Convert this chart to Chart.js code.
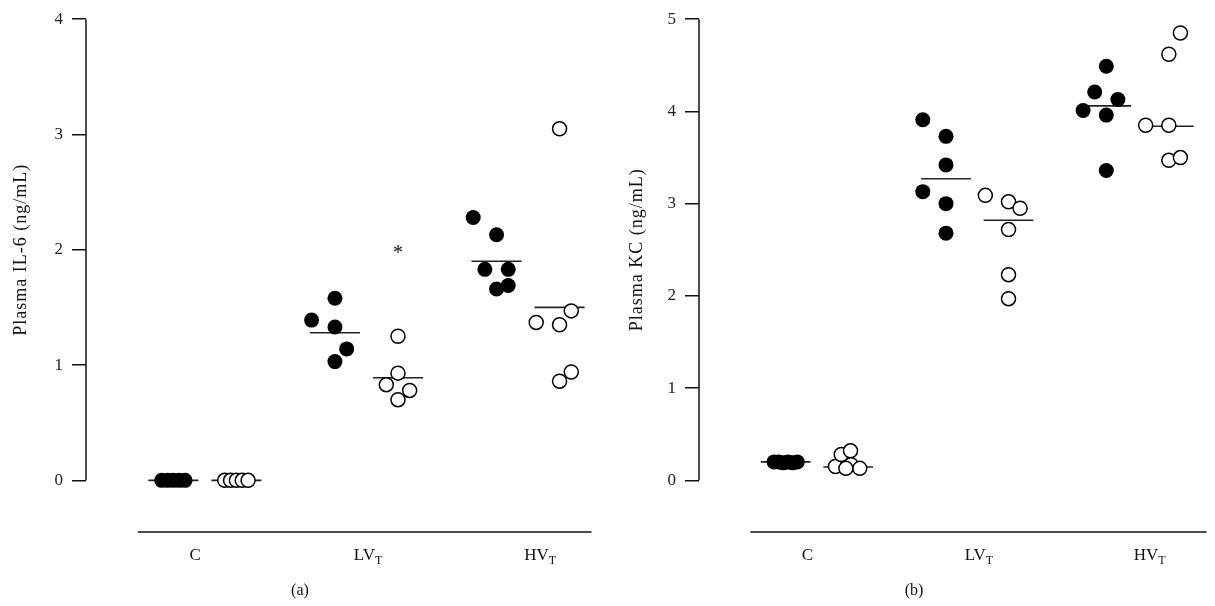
<!DOCTYPE html>
<html>
<head>
<meta charset="utf-8">
<script src="https://cdn.jsdelivr.net/npm/chart.js@4.4.0/dist/chart.umd.min.js"></script>
<style>
  html, body { margin: 0; padding: 0; background: #fff; }
  #wrap { position: relative; width: 1215px; height: 606px; }
  canvas { position: absolute; top: 0; }
</style>
</head>
<body>
<div id="wrap">
  <canvas id="chartA" width="600" height="606" style="left:0"></canvas>
  <canvas id="chartB" width="602" height="606" style="left:613px"></canvas>
</div>
<script>
const categories = ["C", "LV", "HV"];
const categorySub = ["", "T", "T"];

// (a) plasma IL-6, ng/mL, one inner list per category
const il6Solid = [[0, 0, 0, 0, 0], [1.58, 1.39, 1.33, 1.14, 1.03], [2.28, 2.13, 1.83, 1.83, 1.69, 1.66]];
const il6Open = [[0, 0, 0, 0, 0], [1.25, 0.93, 0.83, 0.78, 0.70], [3.05, 1.47, 1.37, 1.35, 0.94, 0.86]];
const il6SolidMean = [0, 1.28, 1.90];
const il6OpenMean = [0, 0.89, 1.50];
const il6Ticks = [0, 1, 2, 3, 4];

// (b) plasma KC, ng/mL
const kcSolid = [[0.20, 0.20, 0.19, 0.20, 0.19, 0.20], [3.91, 3.73, 3.42, 3.13, 3.00, 2.68], [4.49, 4.21, 4.13, 4.01, 3.96, 3.36]];
const kcOpen = [[0.15, 0.28, 0.32, 0.17, 0.13, 0.13], [3.09, 3.02, 2.95, 2.72, 2.23, 1.97], [4.85, 4.62, 3.85, 3.85, 3.47, 3.50]];
const kcSolidMean = [0.20, 3.27, 4.06];
const kcOpenMean = [0.145, 2.82, 3.84];
const kcTicks = [0, 1, 2, 3, 4, 5];

// sideways spread of the dots inside a group (in dot steps)
const il6SolidSpread = [[-1, -0.5, 0, 0.5, 1], [0, -2, 0, 1, 0], [-2, 0, -1, 1, 1, 0]];
const il6OpenSpread = [[-1, -0.5, 0, 0.5, 1], [0, 0, -1, 1, 0], [0, 1, -2, 0, 1, 0]];
const kcSolidSpread = [[-1, -0.6, -0.2, 0.2, 0.6, 1], [-2, 0, 0, -2, 0, 0], [0, -1, 1, -2, 0, 0]];
const kcOpenSpread = [[-1.1, -0.6, 0.2, 0.25, 1, -0.2], [-2, 0, 1, 0, 0, 0], [1, 0, -2, 0, 0, 1]];

const SIDE = 0.195;   // solid left of category, open right
const STEP = 0.0723;  // one dot step in x units
const HALF = 0.155;   // half length of the mean bar
const labelShift = [-0.06, 0.01, 0.075];
const SERIF = "'Liberation Serif', 'DejaVu Serif', serif";

function dots(values, spread, side) {
  const out = [];
  values.forEach((list, g) => {
    list.forEach((v, i) => out.push({ x: g + 1 + side * SIDE + spread[g][i] * STEP, y: v }));
  });
  return out;
}

function bars(means, side) {
  const out = [];
  means.forEach((m, g) => {
    const c = g + 1 + side * SIDE;
    out.push({ x: c - HALF, y: m }, { x: c + HALF, y: m }, { x: c, y: null });
  });
  return out;
}

const decor = {
  id: "decor",
  afterDraw(chart) {
    const { ctx, chartArea, scales: { x, y } } = chart;
    const o = chart.options.plugins.decor;
    ctx.save();
    ctx.strokeStyle = "#111";
    ctx.lineWidth = 1.5;
    // y axis only spans the tick range
    ctx.beginPath();
    ctx.moveTo(chartArea.left, y.getPixelForValue(0));
    ctx.lineTo(chartArea.left, y.getPixelForValue(o.yTop));
    ctx.stroke();
    // detached x axis line
    ctx.beginPath();
    ctx.moveTo(x.getPixelForValue(0.585), chartArea.bottom);
    ctx.lineTo(chartArea.right, chartArea.bottom);
    ctx.stroke();

    ctx.fillStyle = "#111";
    ctx.textBaseline = "alphabetic";
    categories.forEach((c, i) => {
      const px = x.getPixelForValue(i + 1 + labelShift[i]);
      ctx.font = "17px " + SERIF;
      const w1 = ctx.measureText(c).width;
      ctx.font = "12px " + SERIF;
      const w2 = categorySub[i] ? ctx.measureText(categorySub[i]).width : 0;
      const left = px - (w1 + w2) / 2;
      ctx.font = "17px " + SERIF;
      ctx.textAlign = "left";
      ctx.fillText(c, left, chartArea.bottom + 28);
      if (w2) {
        ctx.font = "12px " + SERIF;
        ctx.fillText(categorySub[i], left + w1, chartArea.bottom + 32);
      }
    });

    // y title
    ctx.save();
    ctx.translate(o.titleX, (y.getPixelForValue(0) + y.getPixelForValue(o.yTop)) / 2);
    ctx.rotate(-Math.PI / 2);
    ctx.textAlign = "center";
    ctx.textBaseline = "middle";
    ctx.font = "18px " + SERIF;
    ctx.letterSpacing = "1px";
    ctx.fillText(o.title, 0, 0);
    ctx.letterSpacing = "0px";
    ctx.restore();

    // panel tag
    ctx.textAlign = "center";
    ctx.textBaseline = "middle";
    ctx.font = "16px " + SERIF;
    ctx.fillText(o.tag, chart.width / 2, 591);

    if (o.star) {
      ctx.font = "20px " + SERIF;
      ctx.fillText("*", x.getPixelForValue(o.star.x), y.getPixelForValue(o.star.y) + 4);
    }
    ctx.restore();
  }
};

function makePanel(id, cfg) {
  return new Chart(document.getElementById(id), {
    type: "scatter",
    data: {
      datasets: [
        { data: dots(cfg.solid, cfg.solidSpread, -1), pointRadius: 7.5, backgroundColor: "#000", borderColor: "#000", borderWidth: 0, order: 1 },
        { data: dots(cfg.open, cfg.openSpread, 1), pointRadius: 7, backgroundColor: "#fff", borderColor: "#000", borderWidth: 1.5, order: 2 },
        { data: bars(cfg.solidMean, -1).concat(bars(cfg.openMean, 1)), showLine: true, pointRadius: 0, borderColor: "#222", borderWidth: 1.6, spanGaps: false, order: 3 }
      ]
    },
    options: {
      responsive: false,
      animation: false,
      layout: { padding: { top: 16, right: cfg.padRight, bottom: 74, left: 0 } },
      plugins: {
        legend: { display: false },
        tooltip: { enabled: false },
        decor: { title: cfg.title, titleX: cfg.titleX, yTop: cfg.ticks[cfg.ticks.length - 1], tag: cfg.tag, star: cfg.star }
      },
      scales: {
        x: { type: "linear", display: false, min: 0.2643, max: cfg.xMax },
        y: {
          type: "linear",
          min: cfg.yMin,
          max: cfg.ticks[cfg.ticks.length - 1],
          afterBuildTicks: s => { s.ticks = cfg.ticks.map(v => ({ value: v })); },
          afterFit: s => { s.width = 86; },
          border: { display: false },
          grid: { drawOnChartArea: false, drawTicks: true, tickLength: 14, color: "#111", lineWidth: 1.5 },
          ticks: { color: "#222", padding: 9, font: { family: SERIF, size: 17 }, callback: v => String(v) }
        }
      }
    },
    plugins: [decor]
  });
}

makePanel("chartA", {
  solid: il6Solid, open: il6Open, solidSpread: il6SolidSpread, openSpread: il6OpenSpread,
  solidMean: il6SolidMean, openMean: il6OpenMean, ticks: il6Ticks, yMin: -0.448,
  xMax: 3.3926, padRight: 8, title: "Plasma IL-6 (ng/mL)", titleX: 21, tag: "(a)",
  star: { x: 2 + SIDE, y: 2.0 }
});

makePanel("chartB", {
  solid: kcSolid, open: kcOpen, solidSpread: kcSolidSpread, openSpread: kcOpenSpread,
  solidMean: kcSolidMean, openMean: kcOpenMean, ticks: kcTicks, yMin: -0.560,
  xMax: 3.43, padRight: 3, title: "Plasma KC (ng/mL)", titleX: 24, tag: "(b)",
  star: null
});
</script>
</body>
</html>
